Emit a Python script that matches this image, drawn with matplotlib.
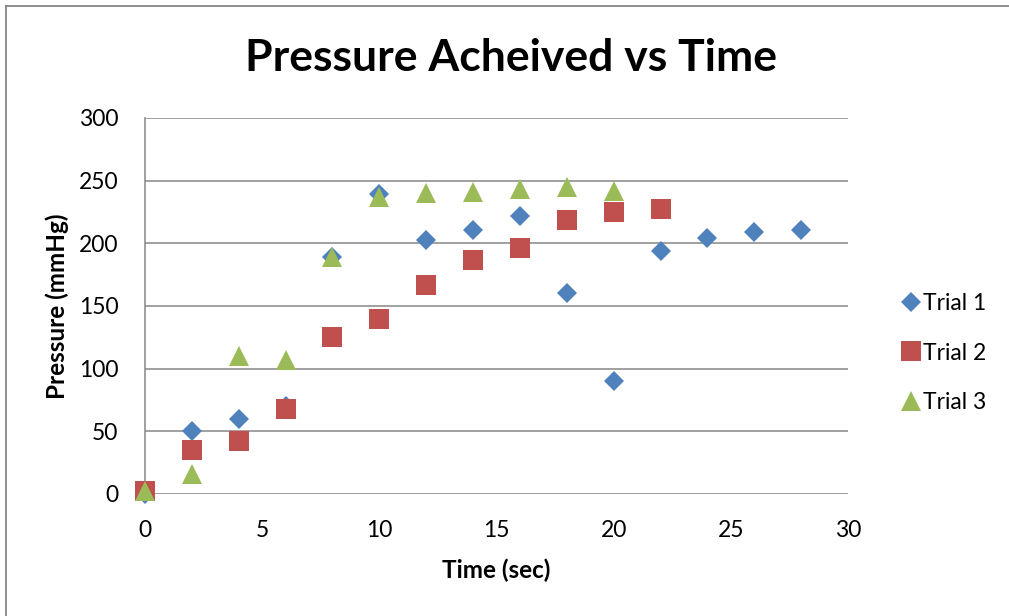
import matplotlib
matplotlib.use("Agg")
import matplotlib.pyplot as plt
from matplotlib.lines import Line2D

plt.rcParams["font.family"] = ["Lato", "DejaVu Sans"]

# time (sec) and pressure (mmHg)
t1 = [0, 2, 4, 6, 8, 10, 12, 14, 16, 18, 20, 22, 24, 26, 28]
p1 = [0, 50, 60, 70, 189, 239, 203, 211, 222, 160, 90, 194, 204, 209, 211]
t2 = [0, 2, 4, 6, 8, 10, 12, 14, 16, 18, 20, 22]
p2 = [2, 35, 42, 68, 125, 140, 167, 187, 196, 219, 225, 227]
t3 = [0, 2, 4, 6, 8, 10, 12, 14, 16, 18, 20]
p3 = [2, 16, 110, 107, 189, 237, 240, 241, 243, 245, 242]

labels = ["Trial 1", "Trial 2", "Trial 3"]
colors = ["#4F81BD", "#C0504D", "#9BBB59"]
markers = ["D", "s", "^"]
sizes = [10.2, 14, 14.4]

fig = plt.figure(figsize=(10.09, 6.16), dpi=100)
ax = fig.add_axes([145 / 1009, 1 - 494 / 616, 703 / 1009, 376 / 616])

for t, p, lab, c, m, ms in zip([t1, t2, t3], [p1, p2, p3], labels, colors, markers, sizes):
    ax.plot(t, p, linestyle="none", marker=m, markersize=ms, color=c,
            markeredgewidth=0, label=lab, clip_on=False, zorder=3)

ax.set_xlim(0, 30)
ax.set_ylim(0, 300)
ax.set_xticks(range(0, 31, 5))
ax.set_yticks(range(0, 301, 50))
ax.tick_params(length=0, labelsize=16.5, pad=19)
ax.grid(axis="y", color="#868686", linewidth=1.1, zorder=1)
for s in ["top", "right", "bottom"]:
    ax.spines[s].set_visible(False)
ax.spines["left"].set_color("#868686")
ax.spines["left"].set_linewidth(1.1)
ax.set_axisbelow(True)

ax.set_xlabel("Time (sec)", fontsize=17.5, fontweight="bold", va="center")
ax.set_ylabel("Pressure (mmHg)", fontsize=17.5, fontweight="bold", va="center")
ax.xaxis.set_label_coords(0.5, (494 - 570) / 376)
ax.yaxis.set_label_coords((57 - 145) / 703, 0.5)
fig.text(511 / 1009, 1 - 58 / 616, "Pressure Acheived vs Time",
         fontsize=32, fontweight="bold", ha="center", va="center")

ax.legend(loc="center left", bbox_to_anchor=(1.06, 0.375), frameon=False,
          fontsize=16.5, handlelength=0.8, handletextpad=0.15, labelspacing=1.25,
          borderpad=0, markerscale=1.0)

# chart frame (left and top edges visible in the crop)
fig.add_artist(Line2D([6 / 1009, 6 / 1009], [0, 1 - 6 / 616], transform=fig.transFigure,
                      color="#868686", linewidth=1.3))
fig.add_artist(Line2D([6 / 1009, 1], [1 - 6 / 616, 1 - 6 / 616], transform=fig.transFigure,
                      color="#868686", linewidth=1.3))

fig.savefig("out.png", dpi=100)
